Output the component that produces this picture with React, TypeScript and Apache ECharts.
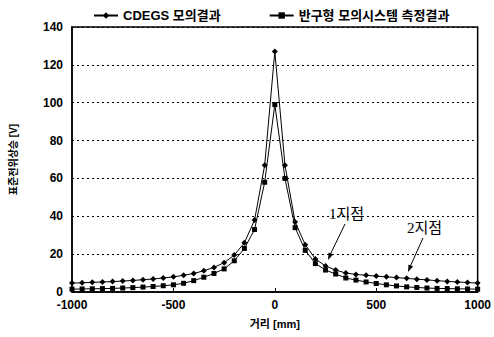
import React, { useEffect, useRef } from "react";
import * as echarts from "echarts";

const xs = [-1000, -950, -900, -850, -800, -750, -700, -650, -600, -550, -500, -450, -400, -350, -300, -250, -200, -150, -100, -50, 0, 50, 100, 150, 200, 250, 300, 350, 400, 450, 500, 550, 600, 650, 700, 750, 800, 850, 900, 950, 1000];
const cdegs = [4.7, 4.9, 5.1, 5.3, 5.5, 5.8, 6.1, 6.5, 6.9, 7.4, 8.0, 8.8, 9.8, 11.2, 13.0, 15.5, 19.5, 26, 38, 67, 127, 67, 37, 25, 17.5, 13.7, 11.6, 10.0, 9.3, 8.8, 8.4, 8.0, 7.6, 7.2, 6.8, 6.4, 6.0, 5.6, 5.3, 5.0, 4.7];
const measured = [1.5, 1.6, 1.7, 1.8, 1.9, 2.1, 2.3, 2.6, 2.9, 3.3, 3.8, 4.6, 6.0, 7.8, 9.8, 12.2, 16.5, 23, 33, 58, 99, 60, 34, 22, 15, 11.6, 9.5, 7.4, 6.3, 5.3, 4.5, 3.8, 3.2, 2.7, 2.4, 2.1, 1.9, 1.8, 1.7, 1.6, 1.5];
const seriesNames = ["CDEGS 모의결과", "반구형 모의시스템 측정결과"];
const annotations = ["1지점", "2지점"];

const sans = "'Liberation Sans', 'Noto Sans CJK KR', sans-serif";
const serif = "'Liberation Serif', 'Noto Sans CJK KR', serif";

export default function App() {
  const ref = useRef<HTMLDivElement>(null);
  useEffect(() => {
    if (!ref.current) return;
    const chart = echarts.init(ref.current, null, { renderer: "svg" });
    const mk = (arr: number[]) => xs.map((x, i) => [x, arr[i]]);
    chart.setOption({
      animation: false,
      backgroundColor: "#fff",
      textStyle: { fontFamily: sans },
      legend: {
        top: 4,
        left: 88,
        itemGap: 48,
        itemWidth: 24,
        itemHeight: 8,
        textStyle: { fontSize: 13, fontWeight: "bold", color: "#000", fontFamily: sans },
        data: seriesNames,
      },
      grid: {
        left: 68,
        right: 14,
        top: 27,
        bottom: 45,
        show: true,
        borderColor: "#000",
        borderWidth: 1.5,
        backgroundColor: "transparent",
      },
      xAxis: {
        type: "value",
        min: -1000,
        max: 1000,
        interval: 500,
        name: "거리 [mm]",
        nameLocation: "middle",
        nameGap: 26,
        nameTextStyle: { fontSize: 11, fontWeight: "bold", color: "#000", fontFamily: sans },
        axisLine: { onZero: false, lineStyle: { color: "#000", width: 1.5 } },
        axisTick: { inside: true, length: 4, lineStyle: { color: "#000" } },
        axisLabel: { fontSize: 12, fontWeight: "bold", color: "#000", margin: 7, formatter: (v: number) => String(v) },
        splitLine: { show: false },
      },
      yAxis: {
        type: "value",
        min: 0,
        max: 140,
        interval: 20,
        name: "표준전위상승 [V]",
        nameLocation: "middle",
        nameGap: 54,
        nameTextStyle: { fontSize: 10, fontWeight: "bold", color: "#000", fontFamily: sans },
        axisLine: { show: true, onZero: false, lineStyle: { color: "#000", width: 1.5 } },
        axisTick: { show: false },
        axisLabel: { fontSize: 12, fontWeight: "bold", color: "#000", margin: 9, verticalAlign: "middle" },
        splitLine: { show: true, lineStyle: { color: "#000", type: [2, 3], width: 1 } },
      },
      series: [
        {
          name: seriesNames[0],
          type: "line",
          data: mk(cdegs),
          symbol: "diamond",
          symbolSize: 6,
          lineStyle: { color: "#000", width: 1 },
          itemStyle: { color: "#000" },
        },
        {
          name: seriesNames[1],
          type: "line",
          data: mk(measured),
          symbol: "rect",
          symbolSize: 5,
          lineStyle: { color: "#000", width: 1 },
          itemStyle: { color: "#000" },
        },
      ],
      graphic: [
        { type: "text", x: 329, y: 206, style: { text: annotations[0], fontSize: 15, fontFamily: serif, fill: "#000" } },
        { type: "text", x: 407, y: 220, style: { text: annotations[1], fontSize: 15, fontFamily: serif, fill: "#000" } },
        { type: "line", shape: { x1: 345, y1: 224, x2: 330, y2: 255 }, style: { stroke: "#000", lineWidth: 1 } },
        { type: "polygon", shape: { points: [[328, 260], [333.2, 254.6], [328.6, 252.6]] }, style: { fill: "#000" } },
        { type: "line", shape: { x1: 423, y1: 238, x2: 410, y2: 267 }, style: { stroke: "#000", lineWidth: 1 } },
        { type: "polygon", shape: { points: [[408, 272], [413.1, 266.6], [408.5, 264.6]] }, style: { fill: "#000" } },
      ],
    });
    return () => chart.dispose();
  }, []);
  return <div ref={ref} style={{ width: 494, height: 337, position: "absolute", left: 0, top: 0 }} />;
}
